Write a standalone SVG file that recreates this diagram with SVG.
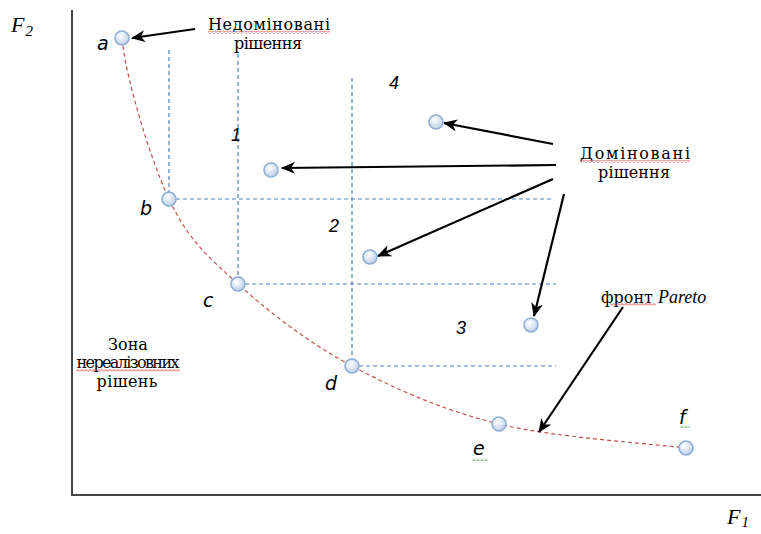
<svg xmlns="http://www.w3.org/2000/svg" width="761" height="534" viewBox="0 0 761 534">
<style>
.axis{stroke:#444;stroke-width:2;fill:none}
.grid{stroke:#4f81bd;stroke-width:1.2;stroke-dasharray:4 3;fill:none}
.front{stroke:#c0504d;stroke-width:1.2;stroke-dasharray:4 3;fill:none}
.arr{stroke:#000;stroke-width:2.2;fill:none;marker-end:url(#ah)}
.pt{fill:url(#pg);stroke:#8eaed6;stroke-width:1.6}
.lbl{font-family:"DejaVu Serif","Liberation Serif",serif;font-size:16px;fill:#000}
.it{font-family:"DejaVu Sans","Liberation Sans",sans-serif;font-style:italic;font-size:19px;fill:#000}
.num{font-family:"Liberation Sans",sans-serif;font-style:italic;font-size:18px;fill:#000}
.ax{font-family:"Liberation Serif",serif;font-style:italic;font-size:22px;fill:#000}
</style>
<defs>
<radialGradient id="pg" cx="0.4" cy="0.35" r="0.7">
<stop offset="0" stop-color="#ffffff"/>
<stop offset="1" stop-color="#b9cde6"/>
</radialGradient>
<marker id="ah" viewBox="0 0 14 12" refX="13" refY="6" markerWidth="14" markerHeight="12" markerUnits="userSpaceOnUse" orient="auto">
<path d="M0,0 L14,6 L0,12 L4,6 z" fill="#000"/>
</marker>
<pattern id="redw" width="4" height="3" patternUnits="userSpaceOnUse">
<polyline points="0,2.5 2,0.5 4,2.5" fill="none" stroke="#e03030" stroke-width="0.9"/>
</pattern>
<pattern id="grnw" width="4" height="3" patternUnits="userSpaceOnUse">
<polyline points="0,2.5 2,0.5 4,2.5" fill="none" stroke="#40a040" stroke-width="0.9"/>
</pattern>
</defs>

<g id="axes">
<line class="axis" x1="72" y1="10" x2="72" y2="495"/>
<line class="axis" x1="71" y1="495" x2="761" y2="495"/>
<text class="ax" x="11" y="32">F<tspan font-size="15" dx="1" dy="4">2</tspan></text>
<text class="ax" x="727" y="524">F<tspan font-size="15" dx="1" dy="3">1</tspan></text>
</g>

<g id="grid">
<line class="grid" x1="169" y1="50" x2="169" y2="199"/>
<line class="grid" x1="238" y1="54" x2="238" y2="284"/>
<line class="grid" x1="352" y1="78" x2="352" y2="366"/>
<line class="grid" x1="169" y1="199" x2="553" y2="199"/>
<line class="grid" x1="238" y1="284" x2="556" y2="284"/>
<line class="grid" x1="352" y1="366" x2="556" y2="366"/>
</g>

<g id="pareto-front">
<path class="front" d="M123,46 C127,80 149.7,158 169,199 C188.3,240 207.5,256.2 238,284 C268.5,311.8 308.5,342.7 352,366 C395.5,389.3 443.3,410.3 499,424 C554.7,437.7 654.8,444 686,448"/>
</g>

<g id="connectors">
<line class="arr" x1="195" y1="29" x2="132" y2="38"/>
<line class="arr" x1="553" y1="144" x2="444" y2="123"/>
<line class="arr" x1="556" y1="165" x2="282" y2="168"/>
<line class="arr" x1="553" y1="179" x2="378" y2="256"/>
<line class="arr" x1="564" y1="194" x2="534" y2="316"/>
<line class="arr" x1="623" y1="307" x2="539" y2="432"/>
</g>

<g id="node-a"><circle class="pt" cx="122" cy="38" r="7"/><text class="it" x="97" y="50">a</text></g>
<g id="node-b"><circle class="pt" cx="169" cy="199" r="7"/><text class="it" x="140" y="215">b</text></g>
<g id="node-c"><circle class="pt" cx="238" cy="284" r="7"/><text class="it" x="203" y="307">c</text></g>
<g id="node-d"><circle class="pt" cx="352" cy="366" r="7"/><text class="it" x="325" y="390">d</text></g>
<g id="node-e"><circle class="pt" cx="499" cy="424" r="7"/><text class="it" x="473" y="455">e</text><rect x="472" y="458" width="16" height="3" fill="url(#grnw)"/></g>
<g id="node-f"><circle class="pt" cx="686" cy="448" r="7"/><text class="it" x="679" y="424">f</text><rect x="680" y="425" width="10" height="3" fill="url(#grnw)"/></g>

<g id="dominated-1"><circle class="pt" cx="436" cy="122" r="7"/></g>
<g id="dominated-2"><circle class="pt" cx="271" cy="170" r="7"/></g>
<g id="dominated-3"><circle class="pt" cx="370" cy="257" r="7"/></g>
<g id="dominated-4"><circle class="pt" cx="531" cy="325" r="7"/></g>

<g id="regions">
<text class="num" x="389" y="89">4</text>
<text class="num" x="231" y="141">1</text>
<text class="num" x="329" y="232">2</text>
<text class="num" x="456" y="334">3</text>
</g>

<g id="label-nondominated">
<text class="lbl" x="269" y="30" text-anchor="middle" textLength="122">Недоміновані</text>
<text class="lbl" x="268" y="49" text-anchor="middle" textLength="68">рішення</text>
<rect x="208" y="31" width="122" height="3" fill="url(#redw)"/>
</g>

<g id="label-dominated">
<text class="lbl" x="635" y="159" text-anchor="middle" textLength="110">Доміновані</text>
<text class="lbl" x="634" y="178" text-anchor="middle" textLength="72">рішення</text>
<rect x="580" y="160" width="110" height="3" fill="url(#redw)"/>
</g>

<g id="label-pareto">
<text class="lbl" x="601" y="303">фронт <tspan font-family="Liberation Serif" font-size="18px" font-style="italic">Pareto</tspan></text>
<rect x="610" y="303" width="46" height="3" fill="url(#redw)"/>
</g>

<g id="label-zone">
<text class="lbl" x="128" y="350" text-anchor="middle">Зона</text>
<text class="lbl" x="128" y="368" text-anchor="middle" textLength="103">нереалізовних</text>
<text class="lbl" x="127" y="387" text-anchor="middle" textLength="61">рішень</text>
<rect x="76" y="369" width="104" height="3" fill="url(#redw)"/>
</g>
</svg>
